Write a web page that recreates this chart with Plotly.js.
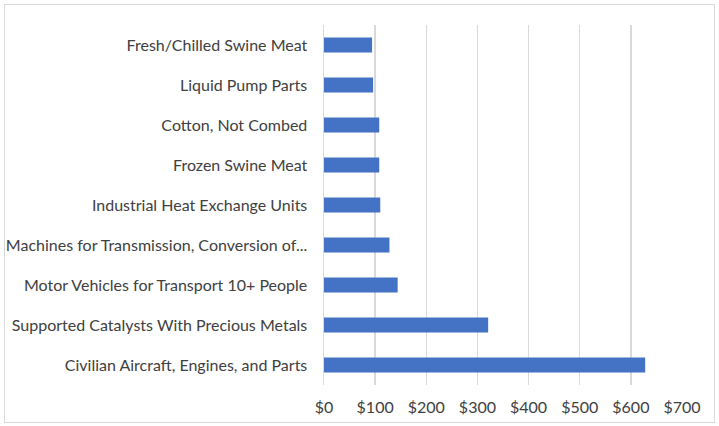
<!DOCTYPE html>
<html>
<head>
<meta charset="utf-8">
<script src="https://cdn.plot.ly/plotly-3.0.1.min.js"></script>
<style>
html, body { margin: 0; padding: 0; background: #fff; }
#chart { width: 719px; height: 426px; position: relative; }
#frame { position: absolute; left: 4px; top: 4px; width: 709px; height: 417px; border: 1px solid #d9d9d9; pointer-events: none; }
</style>
</head>
<body>
<div id="chart"></div>
<div id="frame"></div>
<script>
// Categories listed bottom to top
const categories = [
  "Civilian Aircraft, Engines, and Parts",
  "Supported Catalysts With Precious Metals",
  "Motor Vehicles for Transport 10+ People",
  "Machines for Transmission, Conversion of...",
  "Industrial Heat Exchange Units",
  "Frozen Swine Meat",
  "Cotton, Not Combed",
  "Liquid Pump Parts",
  "Fresh/Chilled Swine Meat"
];
const values = [628, 321, 144, 128, 110, 108, 108, 96, 94];
const tickValues = [0, 100, 200, 300, 400, 500, 600, 700];
const tickLabels = ["$0", "$100", "$200", "$300", "$400", "$500", "$600", "$700"];

const trace = {
  type: 'bar',
  orientation: 'h',
  x: values,
  y: categories,
  marker: { color: '#4472c4', line: { width: 0 } },
  hoverinfo: 'x+y'
};

const layout = {
  width: 719,
  height: 426,
  margin: { l: 324, r: 37, t: 25, b: 41 },
  paper_bgcolor: '#ffffff',
  plot_bgcolor: '#ffffff',
  bargap: 0.63,
  showlegend: false,
  font: { family: 'Lato, "Open Sans", sans-serif', size: 16, color: '#404040' },
  xaxis: {
    range: [0, 700],
    tickvals: tickValues,
    ticktext: tickLabels,
    showgrid: true,
    gridcolor: '#d9d9d9',
    gridwidth: 1.5,
    zeroline: false,
    showline: false,
    ticks: 'outside',
    ticklen: 8,
    tickcolor: 'rgba(0,0,0,0)',
    tickfont: { size: 16, color: '#404040' },
    fixedrange: true
  },
  yaxis: {
    type: 'category',
    categoryorder: 'array',
    categoryarray: categories,
    showgrid: false,
    showline: true,
    linecolor: '#d9d9d9',
    linewidth: 1.5,
    zeroline: false,
    ticks: 'outside',
    ticklen: 12,
    tickcolor: 'rgba(0,0,0,0)',
    tickfont: { size: 16, color: '#404040' },
    automargin: false,
    fixedrange: true
  }
};

Plotly.newPlot('chart', [trace], layout, { displayModeBar: false, staticPlot: true });
</script>
</body>
</html>
